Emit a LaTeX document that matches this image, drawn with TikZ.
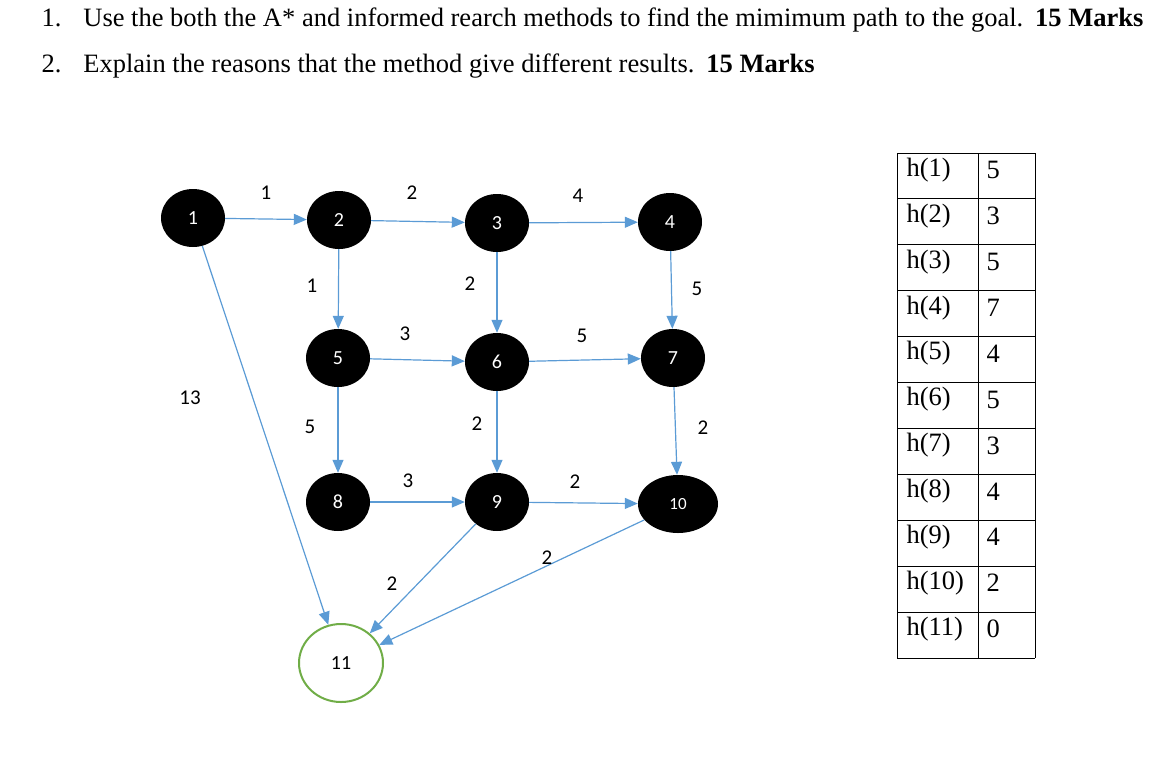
\documentclass[tikz,border=0pt]{standalone}
\usepackage{fontspec}
\setmainfont{Liberation Serif}
\newfontfamily\carlitofont{Carlito}
\usetikzlibrary{shapes.geometric,arrows.meta}
\definecolor{edge}{RGB}{91,155,213}
\definecolor{goal}{RGB}{112,173,71}
\begin{document}
\begin{tikzpicture}[x=1pt,y=-1pt,
  vert/.style={ellipse,fill=black,minimum width=64pt,minimum height=58pt,inner sep=0pt,text=white,font=\carlitofont\fontsize{20}{20}\selectfont},
  arr/.style={draw=edge,line width=1.2pt,-{Triangle[length=13pt,width=11pt]}},
  lab/.style={font=\carlitofont\fontsize{21}{21}\selectfont},
  hd/.style={anchor=west,font=\fontsize{26.5}{26.5}\selectfont}]
\useasboundingbox (0,0) rectangle (1150,758);
\node[hd] (t1) at (38,20) {1.\hspace{22pt}Use the both the A* and informed rearch methods to find the mimimum path to the goal.\hspace{12pt}\textbf{15 Marks}};
\node[hd] (t2) at (38,66) {2.\hspace{22pt}Explain the reasons that the method give different results.\hspace{12pt}\textbf{15 Marks}};
\node[vert] (n1) at (193,218) {1};
\node[vert] (n2) at (339,220) {2};
\node[vert] (n3) at (497,223) {3};
\node[vert] (n4) at (670,222) {4};
\node[vert] (n5) at (338,358) {5};
\node[vert] (n6) at (497,362) {6};
\node[vert] (n7) at (673,358) {7};
\node[vert] (n8) at (338,502) {8};
\node[vert] (n9) at (497,502) {9};
\node[vert,minimum width=80pt,font=\carlitofont\fontsize{17}{17}\selectfont] (n10) at (678,504) {10};
\node[ellipse,draw=goal,line width=2pt,fill=white,minimum width=84pt,minimum height=78pt,font=\carlitofont\fontsize{20}{20}\selectfont] (n11) at (341,663) {11};
\draw[arr] (n1) -- (n2);
\draw[arr] (n2) -- (n3);
\draw[arr] (n3) -- (n4);
\draw[arr] (n2) -- (n5);
\draw[arr] (n3) -- (n6);
\draw[arr] (n4) -- (n7);
\draw[arr] (n5) -- (n6);
\draw[arr] (n6) -- (n7);
\draw[arr] (n5) -- (n8);
\draw[arr] (n6) -- (n9);
\draw[arr] (n7) -- (n10);
\draw[arr] (n8) -- (n9);
\draw[arr] (n9) -- (n10);
\draw[arr] (n1) -- (n11);
\draw[arr] (n9) -- (n11);
\draw[arr] (n10) -- (n11);
\node[lab] (l12) at (266,193) {1};
\node[lab] (l23) at (412,193) {2};
\node[lab] (l34) at (578,196) {4};
\node[lab] (l25) at (312,286) {1};
\node[lab] (l36) at (470,284) {2};
\node[lab] (l47) at (697,289) {5};
\node[lab] (l56) at (405,334) {3};
\node[lab] (l67) at (582,336) {5};
\node[lab] (l111) at (190,398) {13};
\node[lab] (l58) at (310,427) {5};
\node[lab] (l69) at (477,424) {2};
\node[lab] (l710) at (703,428) {2};
\node[lab] (l89) at (408,481) {3};
\node[lab] (l910) at (575,482) {2};
\node[lab] (l1011) at (547,558) {2};
\node[lab] (l911) at (392,584) {2};
\foreach \i/\v [count=\k from 0] in {1/5,2/3,3/5,4/7,5/4,6/5,7/3,8/4,9/4,10/2,11/0}{
  \node[anchor=west,font=\fontsize{26.5}{26.5}\selectfont] (h\i) at (903,{170+45.9*\k}) {h(\i)};
  \node[anchor=west,font=\fontsize{26.5}{26.5}\selectfont] (v\i) at (983,{170+45.9*\k}) {\v};
  \draw[line width=1pt] (897,{153+45.9*\k}) -- (1035,{153+45.9*\k});
}
\draw[line width=1pt] (897,658) -- (1035,658);
\draw[line width=1pt] (897,153) -- (897,658) (978,153) -- (978,658) (1035,153) -- (1035,658);
\end{tikzpicture}
\end{document}
